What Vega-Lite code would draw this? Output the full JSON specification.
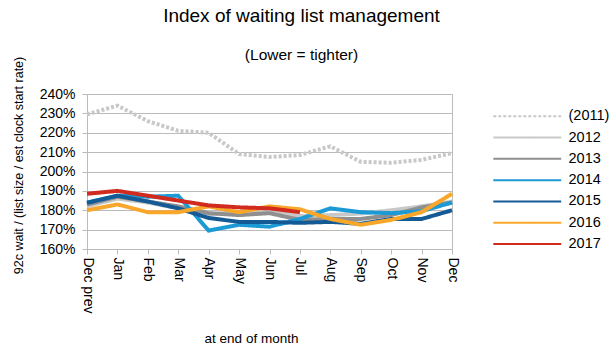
{
  "$schema": "https://vega.github.io/schema/vega-lite/v6.json",
  "width": 365,
  "height": 155,
  "autosize": {"type": "none"},
  "padding": {"left": 87, "top": 94, "right": 161, "bottom": 104},
  "background": "white",
  "config": {
    "font": "Liberation Sans",
    "view": {"stroke": "#bbbbbb"}
  },
  "title": {
    "text": "Index of waiting list management",
    "subtitle": "(Lower = tighter)",
    "fontSize": 19,
    "subtitleFontSize": 15.5,
    "font": "Liberation Sans",
    "subtitleFont": "Liberation Sans",
    "fontWeight": "normal",
    "color": "black",
    "subtitleColor": "black",
    "anchor": "middle",
    "dx": 32,
    "offset": -7,
    "subtitlePadding": 22
  },
  "data": {
    "values": [
      {"month": "Dec prev", "series": "(2011)", "v": 2.295},
      {"month": "Jan", "series": "(2011)", "v": 2.34},
      {"month": "Feb", "series": "(2011)", "v": 2.26},
      {"month": "Mar", "series": "(2011)", "v": 2.21},
      {"month": "Apr", "series": "(2011)", "v": 2.20},
      {"month": "May", "series": "(2011)", "v": 2.09},
      {"month": "Jun", "series": "(2011)", "v": 2.075},
      {"month": "Jul", "series": "(2011)", "v": 2.085},
      {"month": "Aug", "series": "(2011)", "v": 2.13},
      {"month": "Sep", "series": "(2011)", "v": 2.05},
      {"month": "Oct", "series": "(2011)", "v": 2.045},
      {"month": "Nov", "series": "(2011)", "v": 2.06},
      {"month": "Dec", "series": "(2011)", "v": 2.095},

      {"month": "Dec prev", "series": "2012", "v": 1.82},
      {"month": "Jan", "series": "2012", "v": 1.86},
      {"month": "Feb", "series": "2012", "v": 1.84},
      {"month": "Mar", "series": "2012", "v": 1.81},
      {"month": "Apr", "series": "2012", "v": 1.78},
      {"month": "May", "series": "2012", "v": 1.79},
      {"month": "Jun", "series": "2012", "v": 1.795},
      {"month": "Jul", "series": "2012", "v": 1.77},
      {"month": "Aug", "series": "2012", "v": 1.775},
      {"month": "Sep", "series": "2012", "v": 1.783},
      {"month": "Oct", "series": "2012", "v": 1.80},
      {"month": "Nov", "series": "2012", "v": 1.82},
      {"month": "Dec", "series": "2012", "v": 1.845},

      {"month": "Dec prev", "series": "2013", "v": 1.83},
      {"month": "Jan", "series": "2013", "v": 1.87},
      {"month": "Feb", "series": "2013", "v": 1.845},
      {"month": "Mar", "series": "2013", "v": 1.82},
      {"month": "Apr", "series": "2013", "v": 1.785},
      {"month": "May", "series": "2013", "v": 1.775},
      {"month": "Jun", "series": "2013", "v": 1.785},
      {"month": "Jul", "series": "2013", "v": 1.75},
      {"month": "Aug", "series": "2013", "v": 1.755},
      {"month": "Sep", "series": "2013", "v": 1.755},
      {"month": "Oct", "series": "2013", "v": 1.775},
      {"month": "Nov", "series": "2013", "v": 1.815},
      {"month": "Dec", "series": "2013", "v": 1.84},

      {"month": "Dec prev", "series": "2014", "v": 1.84},
      {"month": "Jan", "series": "2014", "v": 1.875},
      {"month": "Feb", "series": "2014", "v": 1.87},
      {"month": "Mar", "series": "2014", "v": 1.875},
      {"month": "Apr", "series": "2014", "v": 1.695},
      {"month": "May", "series": "2014", "v": 1.725},
      {"month": "Jun", "series": "2014", "v": 1.715},
      {"month": "Jul", "series": "2014", "v": 1.755},
      {"month": "Aug", "series": "2014", "v": 1.81},
      {"month": "Sep", "series": "2014", "v": 1.79},
      {"month": "Oct", "series": "2014", "v": 1.785},
      {"month": "Nov", "series": "2014", "v": 1.795},
      {"month": "Dec", "series": "2014", "v": 1.84},

      {"month": "Dec prev", "series": "2015", "v": 1.838},
      {"month": "Jan", "series": "2015", "v": 1.875},
      {"month": "Feb", "series": "2015", "v": 1.845},
      {"month": "Mar", "series": "2015", "v": 1.81},
      {"month": "Apr", "series": "2015", "v": 1.76},
      {"month": "May", "series": "2015", "v": 1.74},
      {"month": "Jun", "series": "2015", "v": 1.74},
      {"month": "Jul", "series": "2015", "v": 1.735},
      {"month": "Aug", "series": "2015", "v": 1.74},
      {"month": "Sep", "series": "2015", "v": 1.73},
      {"month": "Oct", "series": "2015", "v": 1.755},
      {"month": "Nov", "series": "2015", "v": 1.755},
      {"month": "Dec", "series": "2015", "v": 1.80},

      {"month": "Dec prev", "series": "2016", "v": 1.80},
      {"month": "Jan", "series": "2016", "v": 1.83},
      {"month": "Feb", "series": "2016", "v": 1.79},
      {"month": "Mar", "series": "2016", "v": 1.79},
      {"month": "Apr", "series": "2016", "v": 1.82},
      {"month": "May", "series": "2016", "v": 1.79},
      {"month": "Jun", "series": "2016", "v": 1.82},
      {"month": "Jul", "series": "2016", "v": 1.805},
      {"month": "Aug", "series": "2016", "v": 1.755},
      {"month": "Sep", "series": "2016", "v": 1.725},
      {"month": "Oct", "series": "2016", "v": 1.75},
      {"month": "Nov", "series": "2016", "v": 1.79},
      {"month": "Dec", "series": "2016", "v": 1.885},

      {"month": "Dec prev", "series": "2017", "v": 1.885},
      {"month": "Jan", "series": "2017", "v": 1.90},
      {"month": "Feb", "series": "2017", "v": 1.875},
      {"month": "Mar", "series": "2017", "v": 1.85},
      {"month": "Apr", "series": "2017", "v": 1.825},
      {"month": "May", "series": "2017", "v": 1.815},
      {"month": "Jun", "series": "2017", "v": 1.81},
      {"month": "Jul", "series": "2017", "v": 1.79}
    ]
  },
  "mark": {"type": "line", "strokeWidth": 4, "interpolate": "linear"},
  "encoding": {
    "x": {
      "field": "month",
      "type": "ordinal",
      "sort": ["Dec prev", "Jan", "Feb", "Mar", "Apr", "May", "Jun", "Jul", "Aug", "Sep", "Oct", "Nov", "Dec"],
      "scale": {"type": "point", "padding": 0},
      "axis": {
        "title": "at end of month",
        "labelAngle": 90,
        "labelFontSize": 14,
        "labelColor": "black",
        "labelPadding": 3,
        "tickColor": "#bbbbbb",
        "tickSize": 5,
        "domainColor": "#bbbbbb",
        "grid": false,
        "titleFontSize": 13.5,
        "titleFontWeight": "normal",
        "titleColor": "black",
        "titleX": 164,
        "titleY": 93,
        "titleBaseline": "alphabetic"
      }
    },
    "y": {
      "field": "v",
      "type": "quantitative",
      "scale": {"domain": [1.6, 2.4]},
      "axis": {
        "title": "92c wait / (list size / est clock start rate)",
        "format": ".0%",
        "values": [1.6, 1.7, 1.8, 1.9, 2.0, 2.1, 2.2, 2.3, 2.4],
        "labelFontSize": 14,
        "labelColor": "black",
        "labelPadding": 7,
        "gridColor": "#bbbbbb",
        "tickColor": "#bbbbbb",
        "tickSize": 5,
        "domain": false,
        "titleFontSize": 12.5,
        "titleFontWeight": "normal",
        "titleColor": "black",
        "titleX": -69,
        "titleY": 71,
        "titleAngle": -90,
        "titleAlign": "center",
        "titleBaseline": "middle"
      }
    },
    "color": {
      "field": "series",
      "type": "nominal",
      "scale": {
        "domain": ["(2011)", "2012", "2013", "2014", "2015", "2016", "2017"],
        "range": ["#c8c8c8", "#c8c8c8", "#8f8f8f", "#1c9ad6", "#145b96", "#f9a72b", "#d12a1e"]
      },
      "legend": {
        "title": null,
        "orient": "none",
        "legendX": 433,
        "legendY": 15,
        "symbolType": "M-8,0H8",
        "symbolSize": 72,
        "symbolStrokeWidth": 2,
        "labelFontSize": 14.5,
        "labelColor": "black",
        "labelOffset": 34,
        "rowPadding": 6.3,
        "encode": {"symbols": {"update": {"strokeWidth": {"value": 2}}}}
      }
    },
    "strokeDash": {
      "field": "series",
      "type": "nominal",
      "scale": {
        "domain": ["(2011)", "2012", "2013", "2014", "2015", "2016", "2017"],
        "range": [[3, 2], [1, 0], [1, 0], [1, 0], [1, 0], [1, 0], [1, 0]]
      },
      "legend": {
        "title": null,
        "orient": "none",
        "legendX": 433,
        "legendY": 15,
        "symbolType": "M-8,0H8",
        "symbolSize": 72,
        "symbolStrokeWidth": 2,
        "labelFontSize": 14.5,
        "labelColor": "black",
        "labelOffset": 34,
        "rowPadding": 6.3,
        "encode": {"symbols": {"update": {"strokeWidth": {"value": 2}}}}
      }
    }
  }
}
